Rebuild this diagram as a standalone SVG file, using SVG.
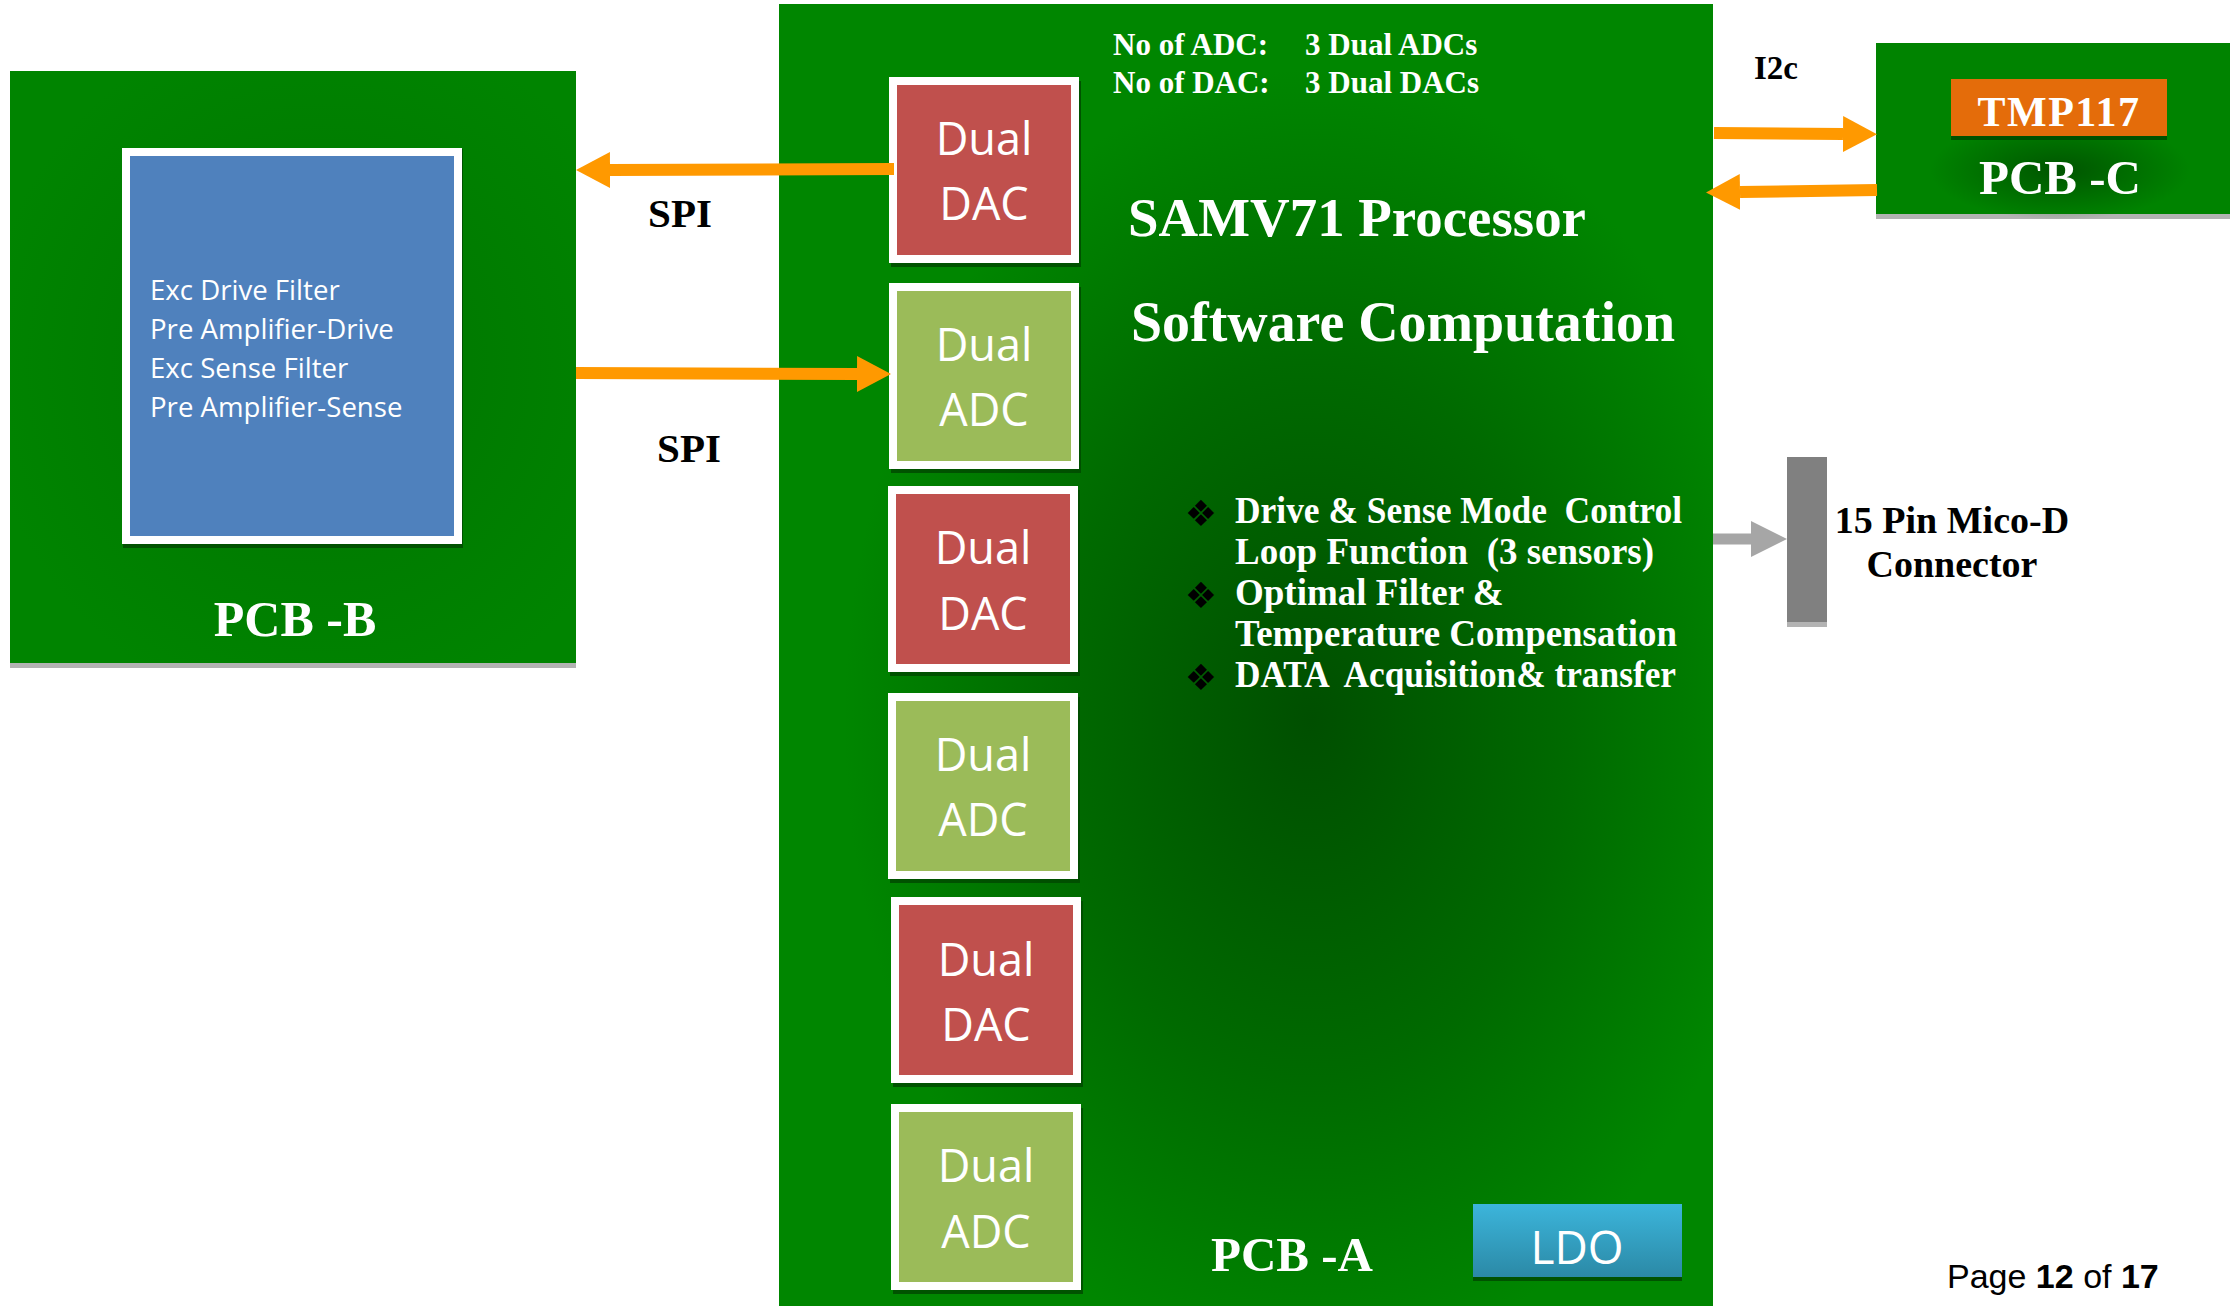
<svg xmlns="http://www.w3.org/2000/svg" width="2230" height="1306" viewBox="0 0 2230 1306">
<style>
.serif{font-family:"Liberation Serif","Times New Roman",serif;font-weight:700}
.sans{font-family:"Open Sans","Noto Sans",sans-serif}
.w{fill:#ffffff}
.k{fill:#000000}
.frame{fill:#ffffff}
.dac{fill:#C0504D}
.adc{fill:#9BBB59}
.bshadow{fill:#004a00;opacity:0.85}
.gshadow{fill:#b3b3b3}
.boxtxt{font-size:45px;text-anchor:middle;fill:#ffffff}
.arrow{stroke:#FF9900;stroke-width:12;fill:none}
.garrow{stroke:#A6A6A6;stroke-width:11;fill:none}
.bul{font-family:"Liberation Serif",serif;font-weight:700;font-size:37px;fill:#ffffff}
.dia{font-family:"DejaVu Sans",sans-serif;font-size:36px;fill:#000000;text-anchor:middle}
</style>
<defs>
<radialGradient id="gA" cx="0.57" cy="0.55" r="0.5" fx="0.57" fy="0.55">
<stop offset="0" stop-color="#004f00"/>
<stop offset="0.55" stop-color="#006a00"/>
<stop offset="1" stop-color="#008600"/>
</radialGradient>
<radialGradient id="gB" cx="0.55" cy="0.5" r="0.6">
<stop offset="0" stop-color="#007400"/>
<stop offset="1" stop-color="#008400"/>
</radialGradient>
<radialGradient id="glow" cx="0.5" cy="0.5" r="0.5">
<stop offset="0" stop-color="#004d00" stop-opacity="0.85"/>
<stop offset="1" stop-color="#004d00" stop-opacity="0"/>
</radialGradient>
<linearGradient id="gLDO" x1="0" y1="0" x2="0" y2="1">
<stop offset="0" stop-color="#3CB5DB"/>
<stop offset="1" stop-color="#2B89A6"/>
</linearGradient>
<marker id="ah" viewBox="0 0 34 36" refX="0" refY="18" markerWidth="34" markerHeight="36" markerUnits="userSpaceOnUse" orient="auto">
<path d="M0,0 L34,18 L0,36 Z" fill="#FF9900"/>
</marker>
<marker id="ahg" viewBox="0 0 36 36" refX="0" refY="18" markerWidth="36" markerHeight="36" markerUnits="userSpaceOnUse" orient="auto">
<path d="M0,0 L36,18 L0,36 Z" fill="#A6A6A6"/>
</marker>
</defs>
<rect x="0" y="0" width="2230" height="1306" fill="#ffffff"/>

<g id="pcb-a">
<rect x="779" y="4" width="934" height="1302" fill="url(#gA)"/>
<text class="serif w" x="1113" y="55" font-size="31">No of ADC:</text>
<text class="serif w" x="1305" y="55" font-size="31">3 Dual ADCs</text>
<text class="serif w" x="1113" y="93" font-size="31">No of DAC:</text>
<text class="serif w" x="1305" y="93" font-size="31">3 Dual DACs</text>
<text class="serif w" x="1128" y="236" font-size="55" textLength="458" lengthAdjust="spacingAndGlyphs">SAMV71 Processor</text>
<text class="serif w" x="1131" y="341" font-size="56" textLength="544" lengthAdjust="spacingAndGlyphs">Software Computation</text>
<text class="dia" x="1201" y="526">❖</text>
<text class="dia" x="1201" y="608">❖</text>
<text class="dia" x="1201" y="690">❖</text>
<text class="bul" x="1235" y="523" xml:space="preserve" textLength="447" lengthAdjust="spacingAndGlyphs">Drive &amp; Sense Mode  Control</text>
<text class="bul" x="1235" y="564" xml:space="preserve" textLength="419" lengthAdjust="spacingAndGlyphs">Loop Function  (3 sensors)</text>
<text class="bul" x="1235" y="605">Optimal Filter &amp;</text>
<text class="bul" x="1235" y="646" textLength="442" lengthAdjust="spacingAndGlyphs">Temperature Compensation</text>
<text class="bul" x="1235" y="687" xml:space="preserve" textLength="441" lengthAdjust="spacingAndGlyphs">DATA  Acquisition&amp; transfer</text>
<text class="serif w" x="1292" y="1271" font-size="49" text-anchor="middle">PCB -A</text>
</g>

<g id="dac1">
<rect class="bshadow" x="891" y="81" width="190" height="186"/>
<rect class="frame" x="889" y="77" width="190" height="186"/>
<rect class="dac" x="897" y="85" width="174" height="170"/>
<text class="sans boxtxt" x="984" y="155">Dual</text>
<text class="sans boxtxt" x="984" y="220">DAC</text>
</g>
<g id="adc1">
<rect class="bshadow" x="891" y="287" width="190" height="186"/>
<rect class="frame" x="889" y="283" width="190" height="186"/>
<rect class="adc" x="897" y="291" width="174" height="170"/>
<text class="sans boxtxt" x="984" y="361">Dual</text>
<text class="sans boxtxt" x="984" y="426">ADC</text>
</g>
<g id="dac2">
<rect class="bshadow" x="890" y="490" width="190" height="186"/>
<rect class="frame" x="888" y="486" width="190" height="186"/>
<rect class="dac" x="896" y="494" width="174" height="170"/>
<text class="sans boxtxt" x="983" y="564">Dual</text>
<text class="sans boxtxt" x="983" y="630">DAC</text>
</g>
<g id="adc2">
<rect class="bshadow" x="890" y="697" width="190" height="186"/>
<rect class="frame" x="888" y="693" width="190" height="186"/>
<rect class="adc" x="896" y="701" width="174" height="170"/>
<text class="sans boxtxt" x="983" y="771">Dual</text>
<text class="sans boxtxt" x="983" y="836">ADC</text>
</g>
<g id="dac3">
<rect class="bshadow" x="893" y="901" width="190" height="186"/>
<rect class="frame" x="891" y="897" width="190" height="186"/>
<rect class="dac" x="899" y="905" width="174" height="170"/>
<text class="sans boxtxt" x="986" y="976">Dual</text>
<text class="sans boxtxt" x="986" y="1041">DAC</text>
</g>
<g id="adc3">
<rect class="bshadow" x="893" y="1108" width="190" height="186"/>
<rect class="frame" x="891" y="1104" width="190" height="186"/>
<rect class="adc" x="899" y="1112" width="174" height="170"/>
<text class="sans boxtxt" x="986" y="1182">Dual</text>
<text class="sans boxtxt" x="986" y="1248">ADC</text>
</g>

<g id="ldo">
<rect class="bshadow" x="1473" y="1208" width="209" height="73"/>
<rect x="1473" y="1204" width="209" height="73" fill="url(#gLDO)"/>
<text class="sans" x="1577" y="1264" font-size="46" fill="#ffffff" text-anchor="middle">LDO</text>
</g>

<g id="pcb-b">
<rect class="gshadow" x="10" y="662" width="566" height="6"/>
<rect x="10" y="71" width="566" height="592" fill="url(#gB)"/>
<rect class="bshadow" x="123" y="149" width="340" height="399"/>
<rect class="frame" x="122" y="148" width="340" height="396"/>
<rect x="130" y="156" width="324" height="380" fill="#4F81BD"/>
<text class="sans w" x="150" y="300" font-size="27.6">Exc Drive Filter</text>
<text class="sans w" x="150" y="339" font-size="27.6">Pre Amplifier-Drive</text>
<text class="sans w" x="150" y="378" font-size="27.6">Exc Sense Filter</text>
<text class="sans w" x="150" y="417" font-size="27.6">Pre Amplifier-Sense</text>
<text class="serif w" x="295" y="636" font-size="50" text-anchor="middle">PCB -B</text>
</g>

<g id="pcb-c">
<rect class="gshadow" x="1876" y="213" width="354" height="6"/>
<rect x="1876" y="43" width="354" height="171" fill="#008300"/>
<ellipse cx="2060" cy="170" rx="130" ry="50" fill="url(#glow)"/>
<rect class="bshadow" x="1951" y="82" width="216" height="58"/>
<rect x="1951" y="79" width="216" height="57" fill="#E46C0A"/>
<text class="serif w" x="2059" y="126" font-size="42" letter-spacing="1.5" text-anchor="middle">TMP117</text>
<text class="serif w" x="2060" y="194" font-size="49" text-anchor="middle">PCB -C</text>
</g>

<g id="connector">
<rect class="gshadow" x="1787" y="620" width="40" height="7"/>
<rect x="1787" y="457" width="40" height="165" fill="#808080"/>
<text class="serif k" x="1952" y="533" font-size="38" text-anchor="middle">15 Pin Mico-D</text>
<text class="serif k" x="1952" y="577" font-size="38" text-anchor="middle">Connector</text>
</g>

<g id="connectors">
<line class="arrow" x1="894" y1="169" x2="610" y2="170" marker-end="url(#ah)"/>
<line class="arrow" x1="576" y1="373" x2="857" y2="374" marker-end="url(#ah)"/>
<line class="arrow" x1="1714" y1="133" x2="1843" y2="134" marker-end="url(#ah)"/>
<line class="arrow" x1="1877" y1="190" x2="1740" y2="192" marker-end="url(#ah)"/>
<line class="garrow" x1="1713" y1="539" x2="1751" y2="539" marker-end="url(#ahg)"/>
<text class="serif k" x="680" y="227" font-size="41" text-anchor="middle">SPI</text>
<text class="serif k" x="689" y="462" font-size="41" text-anchor="middle">SPI</text>
<text class="serif k" x="1776" y="79" font-size="33" text-anchor="middle">I2c</text>
</g>

<g id="page">
<text x="1947" y="1288" font-family="Liberation Sans, Arial, sans-serif" font-size="34" fill="#000000">Page <tspan font-weight="700">12</tspan> of <tspan font-weight="700">17</tspan></text>
</g>
</svg>
